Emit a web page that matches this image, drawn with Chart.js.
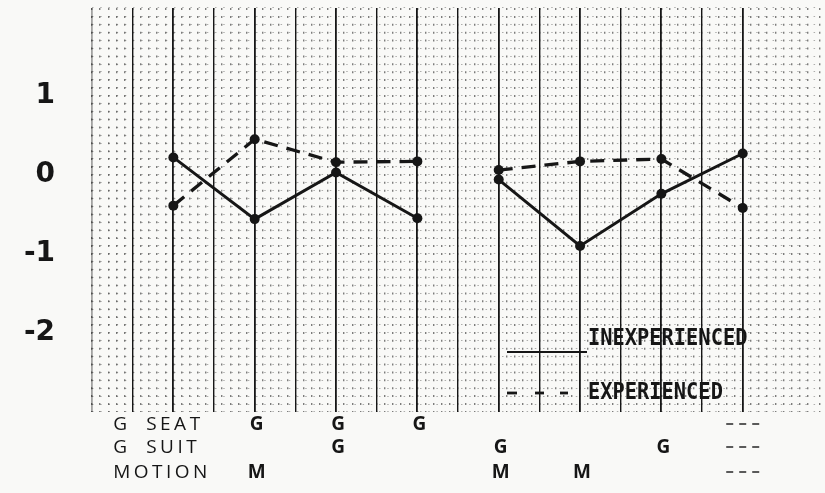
<!DOCTYPE html>
<html>
<head>
<meta charset="utf-8">
<script src="https://cdn.jsdelivr.net/npm/chart.js@4.4.1/dist/chart.umd.min.js"></script>
<style>
  html, body { margin: 0; padding: 0; background: #f9f9f7; }
  #wrap { width: 825px; height: 493px; }
</style>
</head>
<body>
<div id="wrap"><canvas id="c" width="825" height="493"></canvas></div>
<script>
// Condition columns (two groups of four) and mean scores per group of pilots
const columns = [1, 2, 3, 4, 5, 6, 7, 8];
const groupBreakAfter = 4;
const inexperienced = [0.22, -0.56, 0.03, -0.55, -0.06, -0.90, -0.24, 0.27];
const experienced   = [-0.39, 0.45, 0.16, 0.17, 0.06, 0.17, 0.20, -0.42];

// Cue configuration under each column
const rowNames  = ['G SEAT', 'G SUIT', 'MOTION'];
const gSeatRow  = ['', 'G', 'G', 'G', '', '', '', '---'];
const gSuitRow  = ['', '', 'G', '', 'G', '', 'G', '---'];
const motionRow = ['', 'M', '', '', 'M', 'M', '', '---'];

const yTickLabels = [1, 0, -1, -2];
const legendNames = ['INEXPERIENCED', 'EXPERIENCED'];

function toPoints(values) {
  const pts = [];
  values.forEach((v, i) => {
    pts.push({ x: columns[i], y: v });
    if (columns[i] === groupBreakAfter) pts.push({ x: groupBreakAfter + 0.5, y: null });
  });
  return pts;
}

const INK = '#161616';
const X_MIN = 0, X_MAX = 8.95, Y_MIN = -3, Y_MAX = 2.11;

// Cue rows and legend drawn on the canvas
const annotations = {
  id: 'annotations',
  afterDraw(chart) {
    const ctx = chart.ctx;
    const xs = chart.scales.x;
    const area = chart.chartArea;
    const hasSpacing = 'letterSpacing' in ctx;
    ctx.save();
    ctx.fillStyle = INK;
    ctx.textBaseline = 'middle';

    const rows = [gSeatRow, gSuitRow, motionRow];
    const rowY = [area.bottom + 13, area.bottom + 36, area.bottom + 61];
    rows.forEach((row, r) => {
      ctx.textAlign = 'left';
      ctx.font = '19px "Open Sans", sans-serif';
      if (hasSpacing) ctx.letterSpacing = '3.5px';
      const parts = rowNames[r].split(' ');
      const x0 = xs.getPixelForValue(0.26);
      ctx.fillText(parts[0], x0, rowY[r]);
      if (parts.length > 1) ctx.fillText(parts.slice(1).join(' '), x0 + 33, rowY[r]);
      if (hasSpacing) ctx.letterSpacing = '0px';
      row.forEach((mark, i) => {
        if (!mark) return;
        const cx = xs.getPixelForValue(columns[i]);
        if (mark === '---') {
          ctx.lineWidth = 1.4;
          ctx.strokeStyle = INK;
          for (let k = -1; k <= 1; k++) {
            ctx.beginPath();
            ctx.moveTo(cx + k * 13 - 3.5, rowY[r] - 1);
            ctx.lineTo(cx + k * 13 + 3.5, rowY[r] - 1);
            ctx.stroke();
          }
        } else {
          ctx.textAlign = 'center';
          ctx.font = 'bold 19px "Open Sans", sans-serif';
          ctx.fillText(mark, cx + 2, rowY[r]);
        }
      });
    });

    // Legend inside the plot
    ctx.strokeStyle = INK;
    ctx.lineWidth = 2;
    ctx.beginPath();
    ctx.moveTo(507, 352);
    ctx.lineTo(587, 352);
    ctx.stroke();
    ctx.lineWidth = 2.8;
    [[507, 517], [535, 544], [560, 568]].forEach(([a, b]) => {
      ctx.beginPath();
      ctx.moveTo(a, 393);
      ctx.lineTo(b, 393);
      ctx.stroke();
    });
    ctx.textAlign = 'left';
    ctx.font = 'bold 21px "DejaVu Sans Mono", monospace';
    [[legendNames[0], 339], [legendNames[1], 393]].forEach(([txt, y]) => {
      ctx.save();
      ctx.translate(588, y);
      ctx.scale(0.97, 1.12);
      ctx.fillText(txt, 0, 0);
      ctx.restore();
    });
    ctx.restore();
  }
};

new Chart(document.getElementById('c'), {
  type: 'line',
  data: {
    datasets: [
      {
        label: legendNames[0],
        data: toPoints(inexperienced),
        borderColor: INK,
        backgroundColor: INK,
        borderWidth: 3,
        pointRadius: 5,
        pointBackgroundColor: INK,
        pointBorderWidth: 0,
        tension: 0,
        spanGaps: false
      },
      {
        label: legendNames[1],
        data: toPoints(experienced),
        borderColor: INK,
        backgroundColor: INK,
        borderWidth: 3.3,
        borderDash: [14, 9],
        pointRadius: 5,
        pointBackgroundColor: INK,
        pointBorderWidth: 0,
        tension: 0,
        spanGaps: false
      }
    ]
  },
  options: {
    responsive: false,
    animation: false,
    events: [],
    layout: { padding: { top: 8, bottom: 81, right: 0, left: 0 } },
    plugins: { legend: { display: false }, tooltip: { enabled: false } },
    scales: {
      xFine: {
        type: 'linear', position: 'bottom', min: X_MIN, max: X_MAX,
        ticks: { display: false, stepSize: 0.1 },
        grid: { drawTicks: false, color: 'rgba(0,0,0,0.5)', lineWidth: 1.4 },
        border: { display: false, dash: [2, 5.9] }
      },
      x: {
        type: 'linear', position: 'bottom', min: X_MIN, max: X_MAX,
        ticks: { display: false, stepSize: 0.5 },
        afterBuildTicks: (s) => {
          s.ticks = s.ticks.filter(t => Math.abs(t.value * 2 - Math.round(t.value * 2)) < 1e-6);
        },
        grid: {
          drawTicks: false,
          color: (c) => c.tick && c.tick.value === 0 ? 'rgba(0,0,0,0.35)' : INK,
          lineWidth: (c) => c.tick && Number.isInteger(c.tick.value) ? 1.8 : 1.4
        },
        border: { display: false }
      },
      y: {
        type: 'linear', position: 'left', min: Y_MIN, max: Y_MAX,
        afterFit: (s) => { s.width = 92; s.paddingTop = 0; s.paddingBottom = 0; },
        ticks: {
          stepSize: 0.1,
          autoSkip: false,
          padding: 37,
          color: INK,
          font: { family: '"DejaVu Sans", sans-serif', weight: 'bold', size: 28 },
          callback: (v) => {
            const r = Math.round(v);
            return Math.abs(v - r) < 1e-6 && yTickLabels.includes(r) ? String(r) : '';
          }
        },
        grid: { drawTicks: false, color: 'rgba(0,0,0,0.3)', lineWidth: 1.1 },
        border: { display: false, dash: [1.5, 6.7] }
      }
    }
  },
  plugins: [annotations]
});
</script>
</body>
</html>
